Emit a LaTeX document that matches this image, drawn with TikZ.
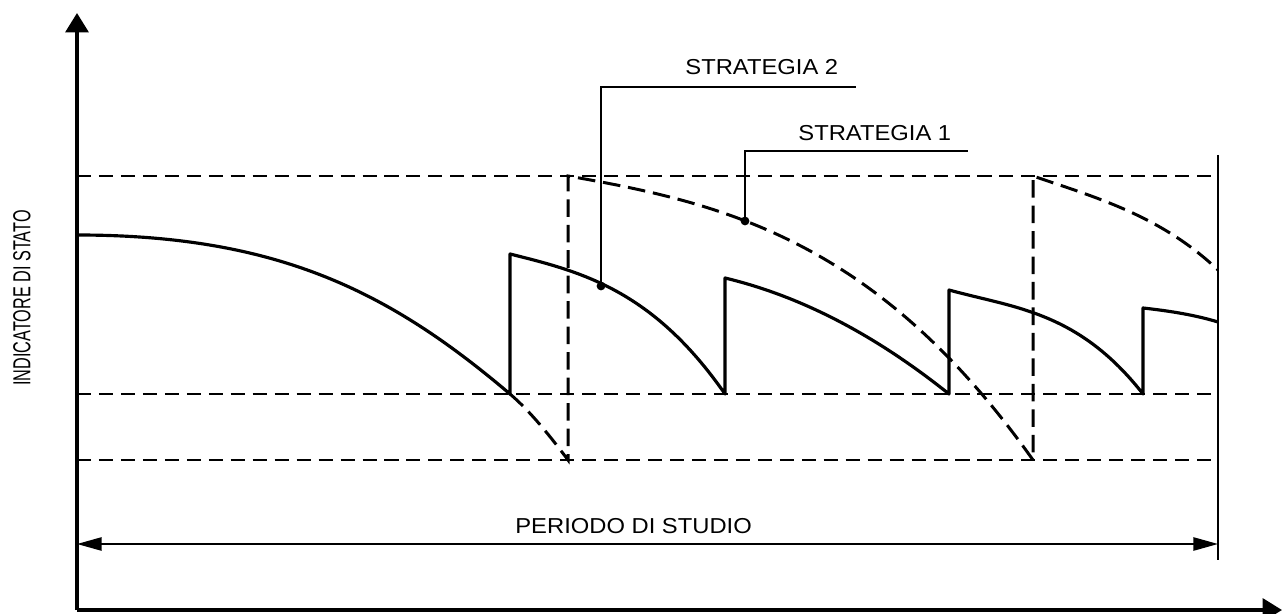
\documentclass[tikz,border=0pt]{standalone}
\usepackage{fontspec}
\setmainfont{Liberation Sans}
\usetikzlibrary{arrows.meta}

\tikzset{
  axis/.style={black, line width=2pt, ->, >={Triangle[length=11pt,width=13pt]}},
  guide/.style={black, line width=1.1pt, dash pattern=on 8pt off 4.5pt},
  strat/.style={black, line width=1.8pt, line join=round},
  stratdash/.style={black, line width=1.7pt, dash pattern=on 10pt off 4.5pt},
  leader/.style={black, line width=.9pt},
  span/.style={black, line width=1.1pt, <->, >={Triangle[length=14pt,width=7.5pt]}},
  dot/.style={circle, fill=black, inner sep=0pt, minimum size=5pt},
  lbl/.style={font=\fontsize{12.3}{14}\selectfont, xscale=1.1, inner sep=0pt},
  ylbl/.style={font=\fontsize{14}{16}\selectfont, rotate=90, xscale=.66, inner sep=0pt},
}

\begin{document}
\begin{tikzpicture}[x=.02cm, y=-.02cm]
\useasboundingbox (0,0) rectangle (1284,614);

\coordinate (O) at (77,610);
\coordinate (ytop) at (77,13);
\coordinate (xend) at (1282,610);
\draw[axis] (O) -- (ytop);
\draw[axis] (O) -- (xend);
\node[ylbl] (ylab) at (22,298) {INDICATORE DI STATO};

\coordinate (rtop) at (1218,155);
\coordinate (rbot) at (1218,560);
\draw[black, line width=1.2pt] (rtop) -- (rbot);
\foreach \y in {176, 394, 460} {
 \draw[guide] (77,\y) -- (1218,\y);
}

\coordinate (s0) at (77,235);
\coordinate (b1) at (510,394);
\coordinate (t1) at (510,254);
\coordinate (b2) at (725,394);
\coordinate (t2) at (725,278);
\coordinate (b3) at (949,394);
\coordinate (t3) at (949,290);
\coordinate (b4) at (1143,394);
\coordinate (t4) at (1143,308);
\coordinate (s5) at (1218,322);
\draw[strat] (s0) .. controls (278,235) and (390,292) .. (b1) -- (t1)
  .. controls (580,271.5) and (652,289) .. (b2) -- (t2)
  .. controls (800,296) and (874,334) .. (b3) -- (t3)
  .. controls (1014,308) and (1078,311) .. (b4) -- (t4)
  .. controls (1170,311) and (1195,315) .. (s5);

\coordinate (u1) at (568,460);
\coordinate (v1) at (568,176);
\coordinate (u2) at (1033,460);
\coordinate (v2) at (1033,176);
\coordinate (w5) at (1218,270);
\draw[stratdash] (b1) .. controls (530,411) and (550,436) .. (u1) -- (v1)
  .. controls (723,203) and (877,240) .. (u2) -- (v2)
  .. controls (1094,197) and (1160,215) .. (w5);

\node[dot] (d2) at (601,286) {};
\node[dot] (d1) at (745,221) {};
\coordinate (e2) at (856,87);
\coordinate (e1) at (968,151);
\draw[leader] (d2.center) |- (e2);
\draw[leader] (d1.center) |- (e1);
\node[lbl, anchor=west] (strat2) at (685,67) {STRATEGIA 2};
\node[lbl, anchor=west] (strat1) at (798,133) {STRATEGIA 1};

\coordinate (p0) at (77,544);
\coordinate (p1) at (1218,544);
\draw[span] (p0) -- (p1);
\node[lbl, anchor=west] (periodo) at (515,526) {PERIODO DI STUDIO};
\end{tikzpicture}
\end{document}
